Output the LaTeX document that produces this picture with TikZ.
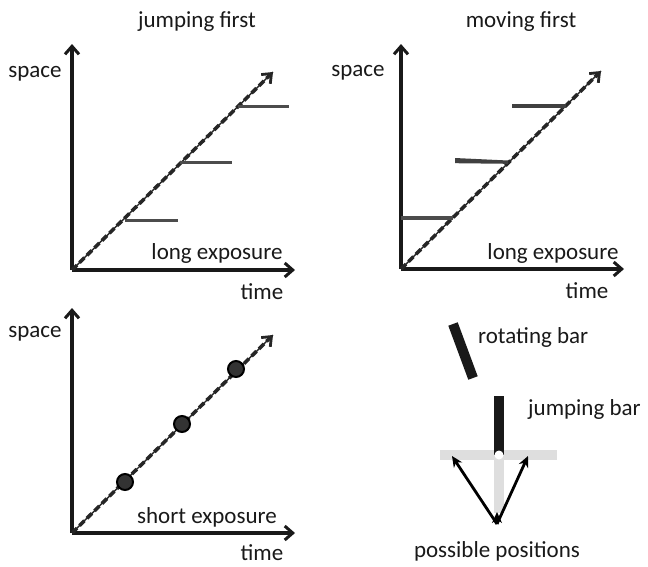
\documentclass[tikz,border=0pt]{standalone}
\usepackage{fontspec}
\setmainfont{Carlito}
\usetikzlibrary{arrows.meta}
\begin{document}
\begin{tikzpicture}[x=1pt,y=-1pt,
  lbl/.style={font=\fontsize{23}{27}\selectfont, inner sep=0pt, text=black!90},
  axis/.style={line width=3.2pt, black!90, -{Straight Barb[length=8pt,width=14pt,line width=3pt]}},
  traj/.style={line width=3.6pt, black!85, dash pattern=on 7pt off 3.5pt, -{Straight Barb[length=8pt,width=13pt,line width=2.8pt]}},
  trajthin/.style={line width=1.4pt, black!85},
  bar/.style={line width=3pt, black!70},
  tbar/.style={line width=4.5pt, black!75},
  dot/.style={circle, fill=black!80, draw=black, line width=2pt, minimum size=16pt, inner sep=0pt},
  parr/.style={line width=2.8pt, black, -{Stealth[length=11pt,width=10pt]}}
]
\useasboundingbox (0,0) rectangle (648,566);

% ---------- panel 1: jumping first ----------
\node[lbl] (t1) at (197,22) {jumping first};
\coordinate (o1) at (72,270);
\coordinate (y1) at (72,44);
\coordinate (x1) at (295,270);
\coordinate (d1) at (273,72);
\draw[axis] (o1) -- (y1);
\draw[axis] (o1) -- (x1);
\draw[trajthin] (o1) -- (d1);
\draw[traj] (o1) -- (d1);
\coordinate (b1a) at (238,106); \coordinate (b1b) at (289,106);
\coordinate (b2a) at (180,162); \coordinate (b2b) at (232,162);
\coordinate (b3a) at (125,220); \coordinate (b3b) at (178,220);
\draw[bar] (b1a) -- (b1b);
\draw[bar] (b2a) -- (b2b);
\draw[bar] (b3a) -- (b3b);
\node[lbl] (s1) at (35,74) {space};
\node[lbl] (tm1) at (262,292) {time};
\node[lbl] (le1) at (217,253) {long exposure};

% ---------- panel 2: moving first ----------
\node[lbl] (t2) at (521,22) {moving first};
\coordinate (o2) at (401,269);
\coordinate (y2) at (401,44);
\coordinate (x2) at (624,269);
\coordinate (d2) at (601,71);
\draw[axis] (o2) -- (y2);
\draw[axis] (o2) -- (x2);
\draw[trajthin] (o2) -- (d2);
\draw[traj] (o2) -- (d2);
\coordinate (c1a) at (512,106); \coordinate (c1b) at (566,106);
\coordinate (c3a) at (401,218); \coordinate (c3b) at (453,218);
\draw[tbar] (c1a) -- (c1b);
\draw[bar, line width=3.4pt] (c3a) -- (c3b);
\fill[black!75] (455,158) -- (508,160.5) -- (508,163.8) -- (455,163.2) -- cycle;
\node[lbl] (s2) at (358,73) {space};
\node[lbl] (tm2) at (587,291) {time};
\node[lbl] (le2) at (553,253) {long exposure};

% ---------- panel 3: short exposure ----------
\coordinate (o3) at (72,533);
\coordinate (y3) at (72,308);
\coordinate (x3) at (295,533);
\coordinate (d3) at (273,335);
\draw[axis] (o3) -- (y3);
\draw[axis] (o3) -- (x3);
\draw[trajthin] (o3) -- (d3);
\draw[traj] (o3) -- (d3);
\node[dot] (p1) at (125,482) {};
\node[dot] (p2) at (182,424) {};
\node[dot] (p3) at (236,369) {};
\node[lbl] (s3) at (35,334) {space};
\node[lbl] (tm3) at (262,553) {time};
\node[lbl] (se) at (207,517) {short exposure};

% ---------- panel 4: bars ----------
\coordinate (r1) at (453,324);
\coordinate (r2) at (473,378);
\draw[line width=10pt, black!90] (r1) -- (r2);
\node[lbl, anchor=west] (rb) at (478,337) {rotating bar};
\coordinate (gh1) at (440,455); \coordinate (gh2) at (557,455);
\coordinate (gv1) at (499,455); \coordinate (gv2) at (499,513);
\draw[line width=10pt, black!13] (gh1) -- (gh2);
\draw[line width=10pt, black!13] (gv1) -- (gv2);
\coordinate (jb1) at (499,396); \coordinate (jb2) at (499,455);
\draw[line width=10pt, black!90] (jb1) -- (jb2);
\fill[white] (499,455) circle (4.5pt);
\node[lbl, anchor=west] (jb) at (528,409) {jumping bar};
\coordinate (ap) at (497,524);
\coordinate (al) at (452,456);
\coordinate (ar) at (528,456);
\coordinate (am) at (497,512);
\draw[parr] (ap) -- (al);
\draw[parr] (ap) -- (ar);
\draw[parr] (ap) -- (am);
\node[lbl] (pp) at (497,551) {possible positions};
\end{tikzpicture}
\end{document}
